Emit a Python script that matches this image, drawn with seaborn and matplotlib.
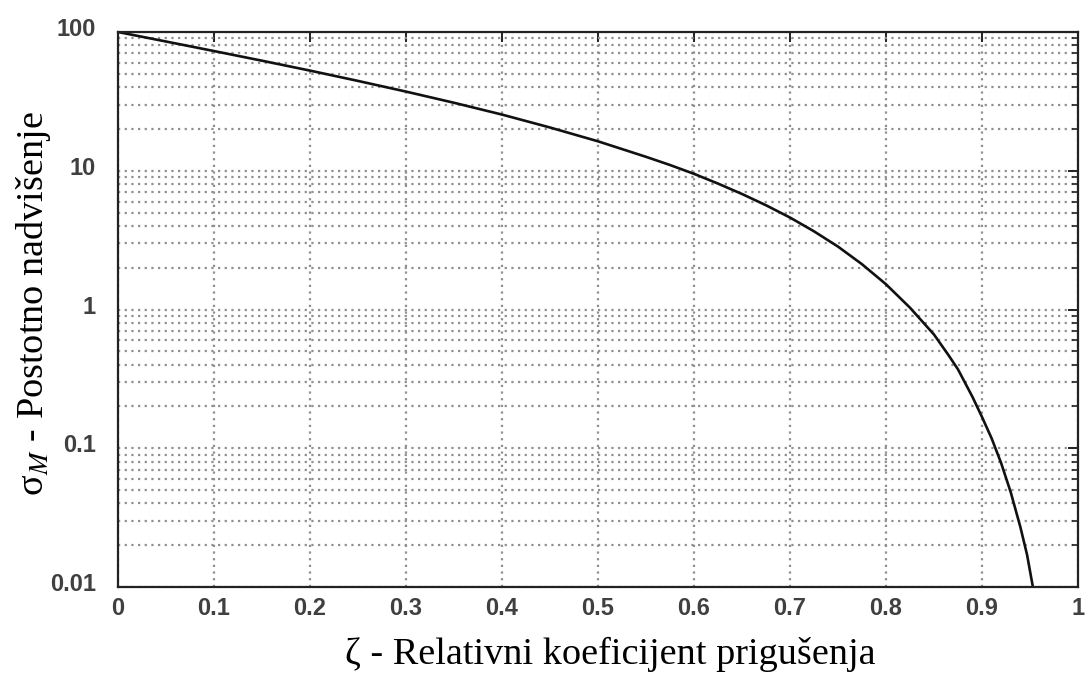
import numpy as np
import pandas as pd
import matplotlib
matplotlib.use("Agg")
import matplotlib.pyplot as plt
import matplotlib.transforms as mtransforms
from matplotlib.ticker import LogLocator, FixedLocator, NullFormatter, FixedFormatter
import seaborn as sns

# Data
zeta = [0.0, 0.05, 0.1, 0.15, 0.2, 0.25, 0.3, 0.35, 0.4, 0.45, 0.5, 0.55, 0.575, 0.6,
        0.625, 0.65, 0.675, 0.7, 0.725, 0.75, 0.775, 0.8, 0.825, 0.85, 0.865, 0.875,
        0.89, 0.9, 0.91, 0.92, 0.93, 0.94, 0.947, 0.953]
overshoot = [100, 85.4, 72.9, 62.1, 52.7, 44.4, 37.2, 30.9, 25.4, 20.5, 16.3, 12.6, 11.0, 9.5,
             8.08, 6.8, 5.64, 4.6, 3.66, 2.84, 2.12, 1.52, 1.03, 0.66, 0.47, 0.37,
             0.235, 0.168, 0.118, 0.078, 0.048, 0.027, 0.017, 0.01]
x_ticks = [0, 0.1, 0.2, 0.3, 0.4, 0.5, 0.6, 0.7, 0.8, 0.9, 1]
x_tick_labels = ["0", "0.1", "0.2", "0.3", "0.4", "0.5", "0.6", "0.7", "0.8", "0.9", "1"]
y_ticks = [0.01, 0.1, 1, 10, 100]
y_tick_labels = ["0.01", "0.1", "1", "10", "100"]

xlabel = "ζ - Relativni koeficijent prigušenja"
ylabel = "σ$_{M}$ - Postotno nadvišenje"

sns.set_style("white")
plt.rcParams["font.family"] = ["Liberation Sans", "DejaVu Sans"]
plt.rcParams["mathtext.fontset"] = "stix"

df = pd.DataFrame({"zeta": zeta, "overshoot": overshoot})

fig = plt.figure(figsize=(10.89, 6.73), dpi=100)
W, H = 1089, 673
ax = fig.add_axes([118 / W, 1 - 587 / H, (1078 - 118) / W, (587 - 32) / H])

sns.lineplot(data=df, x="zeta", y="overshoot", ax=ax, color="#111111", linewidth=1.9,
             estimator=None, sort=False)

ax.set_yscale("log")
ax.set_xlim(0, 1)
ax.set_ylim(0.01, 100)

ax.xaxis.set_major_locator(FixedLocator(x_ticks))
ax.xaxis.set_major_formatter(FixedFormatter(x_tick_labels))
ax.yaxis.set_major_locator(FixedLocator(y_ticks))
ax.yaxis.set_major_formatter(FixedFormatter(y_tick_labels))
ax.yaxis.set_minor_locator(LogLocator(base=10, subs=np.arange(2, 10), numticks=20))
ax.yaxis.set_minor_formatter(NullFormatter())

grid_kw = dict(color="#8f8f8f", linestyle=(0, (1.0, 2.0)), linewidth=1.6)
ax.grid(True, axis="x", which="major", **grid_kw)
ax.grid(True, axis="y", which="both", **grid_kw)

for s in ax.spines.values():
    s.set_color("#222222")
    s.set_linewidth(1.6)
    s.set_visible(True)

ax.tick_params(axis="both", which="both", direction="in", top=True, right=True,
               color="#222222")
ax.tick_params(axis="both", which="major", length=7, width=1.4)
ax.tick_params(axis="y", which="minor", length=4.5, width=1.2)
ax.tick_params(axis="x", which="major", pad=7)
ax.tick_params(axis="y", which="major", pad=16)

for lab in ax.get_xticklabels() + ax.get_yticklabels():
    lab.set_fontsize(17)
    lab.set_fontweight("bold")
    lab.set_color("#404040")

offset = mtransforms.ScaledTranslation(0, 5 / 100, fig.dpi_scale_trans)
for lab in ax.get_yticklabels():
    lab.set_transform(lab.get_transform() + offset)

serif = ["Liberation Serif", "DejaVu Serif"]
ax.set_xlabel(xlabel, fontsize=27.5, family=serif, color="black")
ax.set_ylabel(ylabel, fontsize=27.5, family=serif, color="black")
ax.xaxis.label.set_va("baseline")
ax.xaxis.set_label_coords((610 - 118) / 960, -(664 - 587) / 555)
ax.yaxis.set_label_coords(-(118 - 53) / 960, (587 - 304) / 555)

fig.savefig("out.png", dpi=100)
